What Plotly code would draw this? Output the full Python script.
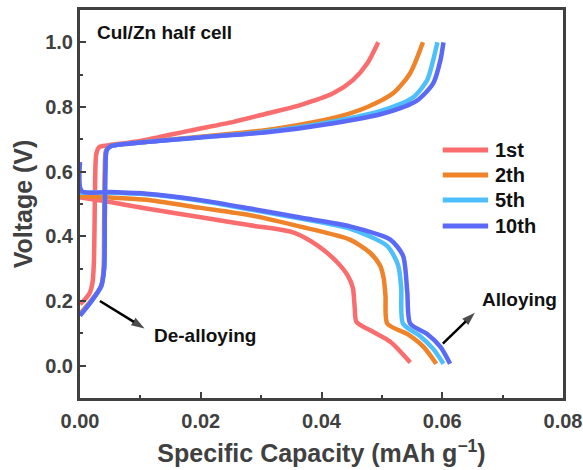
import plotly.graph_objects as go

# Galvanostatic charge/discharge profiles of a CuI/Zn half cell
cycles = ["1st", "2th", "5th", "10th"]
colors = ["#F96D6E", "#EE8329", "#4EBFFB", "#5B6AF6"]

# charge branches: capacity (mAh g-1) and voltage (V)
charge_cap = [
    [0.0, 0.0008, 0.0016, 0.0021, 0.0023, 0.0024, 0.0025, 0.0027, 0.0032, 0.0045, 0.010,
     0.0182, 0.0254, 0.031, 0.0365, 0.042, 0.0452, 0.0476, 0.0494],
    [0.0, 0.0018, 0.0035, 0.0039, 0.0040, 0.0041, 0.0043, 0.0050, 0.010, 0.0199,
     0.031, 0.042, 0.0476, 0.0519, 0.0547, 0.0568],
    [0.0, 0.0018, 0.0035, 0.0040, 0.0041, 0.0042, 0.0044, 0.0050, 0.010, 0.0199,
     0.031, 0.042, 0.0502, 0.0552, 0.0575, 0.0585, 0.0592],
    [0.0, 0.0018, 0.0035, 0.0040, 0.0041, 0.0042, 0.0044, 0.0050, 0.010, 0.0199,
     0.031, 0.042, 0.0502, 0.0558, 0.0585, 0.0597, 0.0602],
]
charge_v = [
    [0.19, 0.205, 0.225, 0.26, 0.32, 0.42, 0.56, 0.655, 0.676, 0.681, 0.695,
     0.727, 0.754, 0.78, 0.806, 0.843, 0.883, 0.935, 1.0],
    [0.16, 0.20, 0.245, 0.30, 0.45, 0.60, 0.665, 0.678, 0.69, 0.708,
     0.729, 0.766, 0.80, 0.843, 0.905, 1.0],
    [0.155, 0.197, 0.245, 0.30, 0.45, 0.60, 0.665, 0.678, 0.69, 0.706,
     0.724, 0.755, 0.79, 0.83, 0.883, 0.945, 1.0],
    [0.155, 0.197, 0.246, 0.30, 0.45, 0.60, 0.665, 0.678, 0.69, 0.706,
     0.722, 0.75, 0.78, 0.82, 0.873, 0.945, 1.0],
]

# discharge branches
discharge_cap = [
    [0.0, 0.005, 0.011, 0.020, 0.0282, 0.0353, 0.0393, 0.0426, 0.0444, 0.0452,
     0.0455, 0.0458, 0.0486, 0.0514, 0.0547],
    [0.0, 0.005, 0.011, 0.020, 0.0282, 0.0365, 0.0447, 0.048, 0.0497, 0.0503,
     0.0506, 0.0509, 0.0542, 0.0569, 0.059],
    [0.0, 0.005, 0.011, 0.020, 0.0282, 0.0365, 0.0447, 0.0509, 0.0527, 0.0532,
     0.0535, 0.0563, 0.0585, 0.0602],
    [0.0, 0.0003, 0.005, 0.011, 0.020, 0.0282, 0.0365, 0.0447, 0.0514, 0.0535,
     0.0542, 0.0547, 0.0575, 0.0597, 0.0613],
]
discharge_v = [
    [0.52, 0.506, 0.486, 0.459, 0.434, 0.412, 0.372, 0.32, 0.277, 0.24,
     0.18, 0.135, 0.104, 0.074, 0.01],
    [0.525, 0.52, 0.513, 0.488, 0.465, 0.43, 0.39, 0.35, 0.31, 0.27,
     0.216, 0.13, 0.098, 0.058, 0.006],
    [0.535, 0.535, 0.53, 0.51, 0.483, 0.455, 0.424, 0.37, 0.31, 0.24,
     0.13, 0.092, 0.052, 0.006],
    [0.63, 0.54, 0.537, 0.532, 0.512, 0.486, 0.458, 0.431, 0.39, 0.34,
     0.23, 0.13, 0.098, 0.058, 0.006],
]

# process labels and their pointer arrows (tail -> head, data units)
notes = ["De-alloying", "Alloying"]
note_pos = [(0.0119, 0.092), (0.0663, 0.206)]
arrow_x = [[0.0033, 0.0107], [0.0601, 0.0654]]
arrow_y = [[0.200, 0.115], [0.068, 0.164]]

FONT = "Liberation Sans, Arial, sans-serif"
AXIS_GRAY = "#404040"

fig = go.Figure()
for name, col, cx, cv, dx, dv in zip(cycles, colors, charge_cap, charge_v,
                                     discharge_cap, discharge_v):
    fig.add_trace(go.Scatter(
        x=cx + [None] + dx, y=cv + [None] + dv,
        mode="lines", name=name,
        line=dict(color=col, width=4.5, shape="spline", smoothing=0.7),
        showlegend=False,
    ))

for ax_, ay_ in zip(arrow_x, arrow_y):
    fig.add_trace(go.Scatter(
        x=ax_, y=ay_, mode="lines+markers", showlegend=False,
        line=dict(color="#000000", width=2.5),
        marker=dict(symbol="arrow", size=[0, 14], angleref="previous",
                    color="#000000", line=dict(width=0)),
    ))

for text, (tx, ty) in zip(notes, note_pos):
    fig.add_annotation(x=tx, y=ty, xref="x", yref="y",
                       text=f"<b>{text}</b>", showarrow=False,
                       xanchor="left", yanchor="middle",
                       font=dict(family=FONT, size=19, color="#111111"))

# legend drawn as short line samples with labels
leg_y = [0.639, 0.575, 0.510, 0.443]
for name, col, yy in zip(cycles, colors, leg_y):
    fig.add_shape(type="line", xref="paper", yref="paper",
                  x0=0.751, x1=0.845, y0=yy, y1=yy,
                  line=dict(color=col, width=5))
    fig.add_annotation(xref="paper", yref="paper", x=0.855, y=yy,
                       text=f"<b>{name}</b>", showarrow=False,
                       xanchor="left", yanchor="middle",
                       font=dict(family=FONT, size=20, color="#111111"))

fig.add_annotation(xref="paper", yref="paper", x=0.031, y=0.943,
                   text="<b>CuI/Zn half cell</b>", showarrow=False,
                   xanchor="left", yanchor="middle",
                   font=dict(family=FONT, size=19, color="#111111"))

axis_common = dict(
    showline=True, mirror=True, linecolor=AXIS_GRAY, linewidth=3,
    ticks="inside", ticklen=6, tickwidth=2, tickcolor=AXIS_GRAY,
    showgrid=False, zeroline=False, automargin=False,
    tickfont=dict(family=FONT, size=20, color=AXIS_GRAY, weight="bold"),
)

fig.update_xaxes(
    range=[0, 0.08], dtick=0.02, tickformat=".2f",
    minor=dict(ticks="inside", ticklen=3, tickwidth=2, dtick=0.01,
               tickcolor=AXIS_GRAY),
    title=dict(text="<b>Specific Capacity (mAh g<sup>\u22121</sup>)</b>",
               font=dict(family=FONT, size=25, color=AXIS_GRAY), standoff=14),
    ticklabelstandoff=3,
    **axis_common,
)
fig.update_yaxes(
    range=[-0.1, 1.1], dtick=0.2, tickformat=".1f",
    minor=dict(ticks="inside", ticklen=3, tickwidth=2, dtick=0.1,
               tickcolor=AXIS_GRAY),
    title=dict(text="<b>Voltage (V)</b>",
               font=dict(family=FONT, size=25, color=AXIS_GRAY), standoff=6),
    **axis_common,
)

fig.update_layout(
    width=583, height=470,
    margin=dict(l=80, r=20, t=10, b=72),
    paper_bgcolor="white", plot_bgcolor="white",
    font=dict(family=FONT),
    hovermode=False,
)

fig.write_html("out.html")
